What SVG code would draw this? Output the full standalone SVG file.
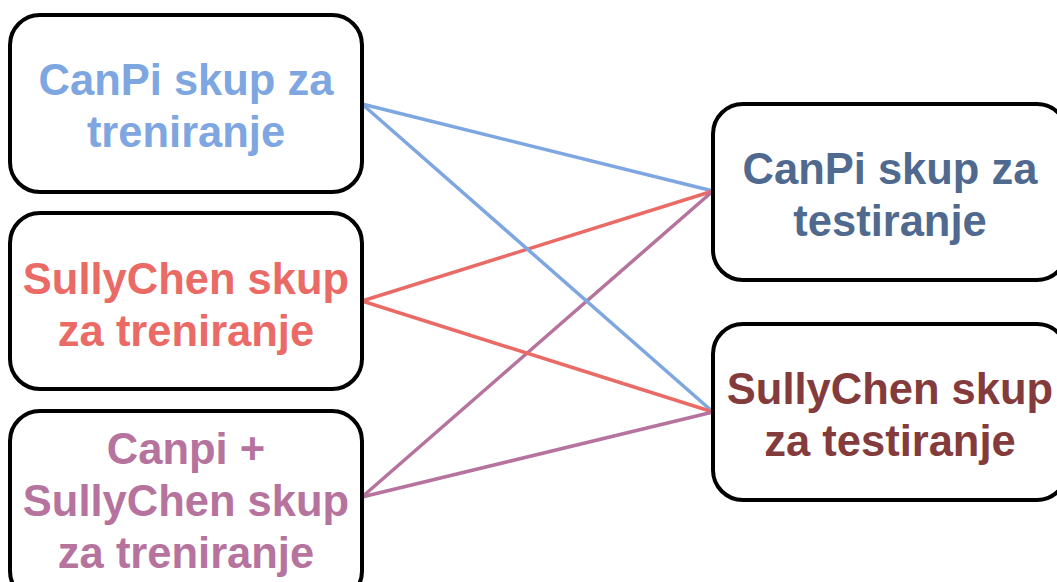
<svg xmlns="http://www.w3.org/2000/svg" width="1057" height="582" viewBox="0 0 1057 582">
<style>
.box{fill:#fff;stroke:#000;stroke-width:4}
.t{font-family:"Liberation Sans",Arial,sans-serif;font-weight:bold;font-size:43.5px;text-anchor:middle}
.c{fill:none;stroke-width:3.5}
</style>
<rect width="1057" height="582" fill="#fff"/>
<g id="connectors">
<line class="c" x1="362" y1="104" x2="713" y2="191" stroke="#7EA6E0"/>
<line class="c" x1="362" y1="301" x2="713" y2="191" stroke="#EA6B66"/>
<line class="c" x1="362" y1="497" x2="713" y2="191" stroke="#B5739D"/>
<line class="c" x1="362" y1="104" x2="713" y2="412" stroke="#7EA6E0"/>
<line class="c" x1="362" y1="301" x2="713" y2="412" stroke="#EA6B66"/>
<line class="c" x1="362" y1="497" x2="713" y2="412" stroke="#B5739D"/>
</g>
<g id="n1">
<rect class="box" x="10" y="15" width="352" height="177" rx="30"/>
<text class="t" fill="#7EA6E0" x="186" y="95">CanPi skup za</text>
<text class="t" fill="#7EA6E0" x="186" y="147">treniranje</text>
</g>
<g id="n2">
<rect class="box" x="10" y="213" width="352" height="176" rx="30"/>
<text class="t" fill="#EA6B66" x="186" y="294">SullyChen skup</text>
<text class="t" fill="#EA6B66" x="186" y="346">za treniranje</text>
</g>
<g id="n3">
<rect class="box" x="10" y="411" width="352" height="190" rx="30"/>
<text class="t" fill="#B5739D" x="186" y="464">Canpi +</text>
<text class="t" fill="#B5739D" x="186" y="516">SullyChen skup</text>
<text class="t" fill="#B5739D" x="186" y="568">za treniranje</text>
</g>
<g id="n4">
<rect class="box" x="713" y="104" width="354" height="176" rx="30"/>
<text class="t" fill="#4F6A8E" x="890" y="184">CanPi skup za</text>
<text class="t" fill="#4F6A8E" x="890" y="236">testiranje</text>
</g>
<g id="n5">
<rect class="box" x="713" y="324" width="354" height="176" rx="30"/>
<text class="t" fill="#843B3B" x="890" y="404">SullyChen skup</text>
<text class="t" fill="#843B3B" x="890" y="456">za testiranje</text>
</g>
</svg>
